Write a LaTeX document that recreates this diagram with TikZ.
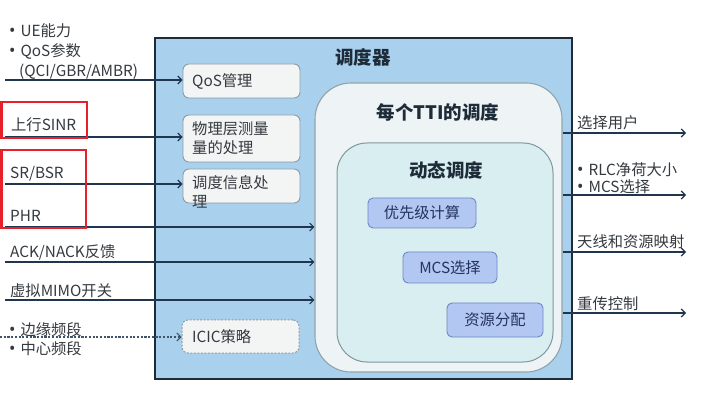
\documentclass[tikz,border=0pt]{standalone}
\usepackage{fontspec}
\setmainfont{Noto Sans CJK SC}
\newfontfamily\bulfont{Noto Sans}
\newcommand{\mybul}{{\bulfont\fontsize{17}{18}\selectfont •}\hspace{5pt}}
\usetikzlibrary{arrows.meta}
\definecolor{mainfill}{HTML}{A9D1EE}
\definecolor{mainline}{HTML}{1E2B38}
\definecolor{ttifill}{HTML}{EEF4F6}
\definecolor{ttiline}{HTML}{8FA3AA}
\definecolor{dynfill}{HTML}{D8EEF0}
\definecolor{dynline}{HTML}{7F979C}
\definecolor{subfill}{HTML}{B3C7F3}
\definecolor{subline}{HTML}{6F87C4}
\definecolor{subtext}{HTML}{23345E}
\definecolor{leftfill}{HTML}{F3F4F4}
\definecolor{leftline}{HTML}{8C9BA6}
\definecolor{arrowc}{HTML}{1F3550}
\definecolor{txt}{HTML}{353A40}
\definecolor{redbox}{HTML}{E8202A}
\begin{document}
\begin{tikzpicture}[x=1pt,y=-1pt,
  every node/.style={font=\fontsize{15.3}{18}\selectfont, text=txt, inner sep=0pt},
  mainbox/.style={draw=mainline, line width=1.8pt, fill=mainfill},
  ttibox/.style={draw=ttiline, line width=1.1pt, fill=ttifill, rounded corners=36pt},
  dynbox/.style={draw=dynline, line width=1pt, fill=dynfill, rounded corners=30pt},
  subbox/.style={draw=subline, line width=0.9pt, fill=subfill, rounded corners=5pt, text=subtext},
  leftbox/.style={draw=leftline, line width=0.9pt, fill=leftfill, rounded corners=6pt},
  icicbox/.style={draw=leftline, line width=1pt, dash pattern=on 2pt off 1.5pt, fill=leftfill, rounded corners=6pt},
  title/.style={font=\fontsize{18.5}{21}\bfseries\selectfont, text=mainline},
  lab/.style={anchor=base west},
  arr/.style={draw=arrowc, line width=1.1pt, -{Straight Barb[length=4pt,width=8pt,line width=1.1pt]}},
  darr/.style={draw=arrowc!85, line width=1.1pt, dash pattern=on 2.2pt off 1.5pt, -{Straight Barb[length=4pt,width=8pt,line width=1pt]}},
  redrect/.style={draw=redbox, line width=2.8pt}
]
\useasboundingbox[fill=white] (0,0) rectangle (702,406);

% main scheduler box
\node[mainbox, minimum width=417pt, minimum height=341pt] (main) at (363.5,208.5) {};
\node[title] (maint) at (363,57) {调度器};

% per-TTI scheduling
\node[ttibox, minimum width=247pt, minimum height=289pt] (tti) at (438.5,227.5) {};
\node[title] (ttit) at (438,112) {每个TTI的调度};

% dynamic scheduling
\node[dynbox, minimum width=216pt, minimum height=219pt] (dyn) at (445,252.5) {};
\node[title] (dynt) at (446,170) {动态调度};

\node[subbox, minimum width=108pt, minimum height=30pt] (prio) at (422,213) {优先级计算};
\node[subbox, minimum width=94pt, minimum height=31pt] (mcs) at (450,267.5) {MCS选择};
\node[subbox, minimum width=96pt, minimum height=34pt] (res) at (495,320) {资源分配};

% left processing boxes
\node[leftbox, minimum width=117pt, minimum height=34pt] (qos) at (241.5,81) {};
\node[anchor=west] (qost) at (192,81) {QoS管理};
\node[leftbox, minimum width=117pt, minimum height=47pt] (phy) at (241.5,138.5) {};
\node[anchor=west, align=left] (phyt) at (192,138.5) {物理层测量\\[1pt]量的处理};
\node[leftbox, minimum width=117pt, minimum height=34pt] (sinfo) at (241.5,186) {};
\node[lab] (sinfot1) at (192,188.5) {调度信息处};
\node[lab] (sinfot2) at (192,208) {理};
\node[icicbox, minimum width=117pt, minimum height=33pt] (icic) at (240.5,336.5) {};
\node[anchor=west] (icict) at (192,336.5) {ICIC策略};

% left inputs
\coordinate (in1) at (5,80);
\coordinate (in2) at (5,137);
\coordinate (in3) at (5,184);
\coordinate (in4) at (5,227);
\coordinate (in5) at (5,262);
\coordinate (in6) at (5,300);
\coordinate (in7) at (0,337);

\draw[arr] (in1) -- (in1 -| qos.west);
\draw[arr] (in2) -- (in2 -| phy.west);
\draw[arr] (in3) -- (in3 -| sinfo.west);
\draw[arr] (in4) -- (in4 -| tti.west);
\draw[arr] (in5) -- (in5 -| tti.west);
\draw[arr] (in6) -- (in6 -| tti.west);
\draw[darr] (in7) -- (in7 -| icic.west);

\node[lab] (l1a) at (9,37) {\mybul UE能力};
\node[lab] (l1b) at (9,57) {\mybul QoS参数};
\node[lab] (l1c) at (19,77) {(QCI/GBR/AMBR)};
\node[lab] (l2) at (11,131) {上行SINR};
\node[lab] (l3) at (10,179) {SR/BSR};
\node[lab] (l4) at (10,222) {PHR};
\node[lab] (l5) at (10,258) {ACK/NACK反馈};
\node[lab] (l6) at (10,297) {虚拟MIMO开关};
\node[lab] (l7a) at (9,335) {\mybul 边缘频段};
\node[lab] (l7b) at (9,355) {\mybul 中心频段};

% red highlight frames
\draw[redrect] (1.4,102) rectangle (87,138);
\draw[redrect] (1.4,150) rectangle (86,228);

% right outputs
\coordinate (o1) at (686,133);
\coordinate (o2) at (686,195);
\coordinate (o3) at (686,252);
\coordinate (o4) at (686,313);
\draw[arr] (o1 -| tti.east) -- (o1);
\draw[arr] (o2 -| tti.east) -- (o2);
\draw[arr] (o3 -| tti.east) -- (o3);
\draw[arr] (o4 -| tti.east) -- (o4);

\node[lab] (r1) at (577,129) {选择用户};
\node[lab] (r2a) at (577,176) {\mybul RLC净荷大小};
\node[lab] (r2b) at (577,193) {\mybul MCS选择};
\node[lab] (r3) at (577,248) {天线和资源映射};
\node[lab] (r4) at (577,309) {重传控制};
\end{tikzpicture}
\end{document}
